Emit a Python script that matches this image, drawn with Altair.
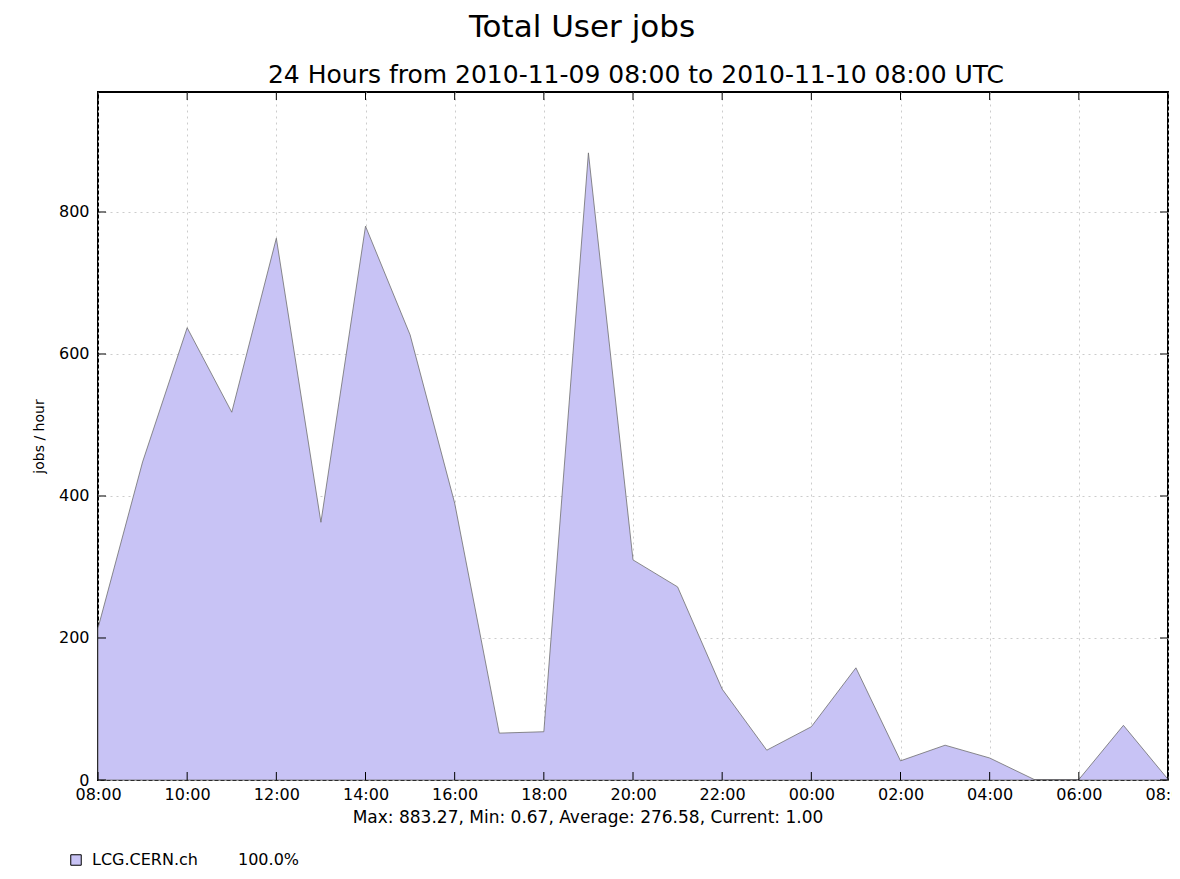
import altair as alt
import pandas as pd

# ---- data ----
hours = ["2010-11-09T08:00:00Z", "2010-11-09T09:00:00Z", "2010-11-09T10:00:00Z",
         "2010-11-09T11:00:00Z", "2010-11-09T12:00:00Z", "2010-11-09T13:00:00Z",
         "2010-11-09T14:00:00Z", "2010-11-09T15:00:00Z", "2010-11-09T16:00:00Z",
         "2010-11-09T17:00:00Z", "2010-11-09T18:00:00Z", "2010-11-09T19:00:00Z",
         "2010-11-09T20:00:00Z", "2010-11-09T21:00:00Z", "2010-11-09T22:00:00Z",
         "2010-11-09T23:00:00Z", "2010-11-10T00:00:00Z", "2010-11-10T01:00:00Z",
         "2010-11-10T02:00:00Z", "2010-11-10T03:00:00Z", "2010-11-10T04:00:00Z",
         "2010-11-10T05:00:00Z", "2010-11-10T06:00:00Z", "2010-11-10T07:00:00Z",
         "2010-11-10T08:00:00Z"]
jobs = [214, 448, 637, 518, 763, 363, 780, 627, 390, 66, 68, 883.27, 310, 272,
        128, 42, 75, 158, 27, 49, 31, 0.67, 0.67, 77, 1.0]
site = ["LCG.CERN.ch"]
share = ["100.0%"]
x_ticks = [0, 2, 4, 6, 8, 10, 12, 14, 16, 18, 20, 22, 24]   # hours after 08:00 UTC
y_ticks = [0, 200, 400, 600, 800]

title_text = "Total User jobs"
subtitle_text = "24 Hours from 2010-11-09 08:00 to 2010-11-10 08:00 UTC"
stats_text = "Max: 883.27, Min: 0.67, Average: 276.58, Current: 1.00"

W, H = 1070, 688
FILL = "#c8c3f5"
FONT = "DejaVu Sans"

t = pd.to_datetime(pd.Series(hours), utc=True)
offset = (t - t.iloc[0]).dt.total_seconds() / 3600.0
df = pd.DataFrame({"h": offset, "jobs": jobs, "site": site[0]})
xt_df = pd.DataFrame({"h": x_ticks})
yt_df = pd.DataFrame({"v": y_ticks})

x_scale = alt.Scale(domain=[0, 24], nice=False, zero=False)
y_scale = alt.Scale(domain=[0, 969], nice=False, zero=True)

label_expr = ("(((datum.value + 8) % 24) < 10 ? '0' : '') + "
              "((datum.value + 8) % 24) + ':00'")

x_axis = alt.Axis(title=None, values=x_ticks, labelExpr=label_expr,
                  labelFont=FONT, labelFontSize=16, labelColor="#000", labelPadding=6,
                  ticks=False, domain=False, grid=True, gridColor="#cccccc",
                  gridDash=[2, 4], gridWidth=1, labelFlush=False)
y_axis = alt.Axis(title="jobs / hour", values=y_ticks,
                  labelFont=FONT, labelFontSize=16, labelColor="#000", labelPadding=9,
                  titleFont=FONT, titleFontSize=14, titleFontWeight="normal",
                  titleColor="#000", titlePadding=12,
                  ticks=False, domain=False, grid=True, gridColor="#cccccc",
                  gridDash=[2, 4], gridWidth=1)

area = alt.Chart(df).mark_area(color=FILL, stroke="#6e6e6e", strokeWidth=0.8,
                               fillOpacity=1).encode(
    x=alt.X("h:Q", scale=x_scale, axis=x_axis),
    y=alt.Y("jobs:Q", scale=y_scale, axis=y_axis),
)

legend_layer = alt.Chart(df.head(1)).mark_square(
    opacity=0, filled=True, stroke="#000", strokeWidth=1).encode(
    fill=alt.Fill("site:N",
                  scale=alt.Scale(domain=site, range=[FILL]),
                  legend=alt.Legend(title=None, orient="none", legendX=-30, legendY=760,
                                    symbolType="square", symbolSize=110,
                                    symbolStrokeColor="#000", symbolStrokeWidth=1,
                                    symbolOpacity=1, symbolFillColor=FILL,
                                    labelFont=FONT, labelFontSize=16, labelColor="#000",
                                    labelOffset=8, padding=0))
)

share_text = alt.Chart(pd.DataFrame({"t": share})).mark_text(
    font=FONT, fontSize=16, align="left", baseline="middle", color="#000").encode(
    text="t:N", x=alt.value(140), y=alt.value(768))

tick_bottom = alt.Chart(xt_df).mark_rule(color="#000", strokeWidth=1).encode(
    x=alt.X("h:Q", scale=x_scale), y=alt.value(H), y2=alt.value(H - 8))
tick_top = alt.Chart(xt_df).mark_rule(color="#000", strokeWidth=1).encode(
    x=alt.X("h:Q", scale=x_scale), y=alt.value(0), y2=alt.value(8))
ytick_left = alt.Chart(yt_df).mark_rule(color="#000", strokeWidth=1).encode(
    y=alt.Y("v:Q", scale=y_scale), x=alt.value(0), x2=alt.value(8))
ytick_right = alt.Chart(yt_df).mark_rule(color="#000", strokeWidth=1).encode(
    y=alt.Y("v:Q", scale=y_scale), x=alt.value(W), x2=alt.value(W - 8))

stats = alt.Chart(pd.DataFrame({"t": [stats_text]})).mark_text(
    font=FONT, fontSize=17, align="center", baseline="middle", color="#000").encode(
    text="t:N", x=alt.value(490), y=alt.value(726))

main_title = alt.Chart(pd.DataFrame({"t": [title_text]})).mark_text(
    font=FONT, fontSize=31, align="center", baseline="middle", color="#000").encode(
    text="t:N", x=alt.value(484), y=alt.value(-64))

sub_title = alt.Chart(pd.DataFrame({"t": [subtitle_text]})).mark_text(
    font=FONT, fontSize=25, align="center", baseline="middle", color="#000").encode(
    text="t:N", x=alt.value(538), y=alt.value(-17))

chart = alt.layer(
    area, tick_bottom, tick_top, ytick_left, ytick_right,
    legend_layer, share_text, stats, main_title, sub_title
).properties(
    width=W, height=H,
    autosize=alt.AutoSizeParams(type="none"),
    padding={"left": 90, "top": 84, "right": 4, "bottom": 91},
    background="white",
).configure_view(stroke="#000", strokeWidth=2)

chart.save("out.html", embed_options={"renderer": "svg", "actions": False})
